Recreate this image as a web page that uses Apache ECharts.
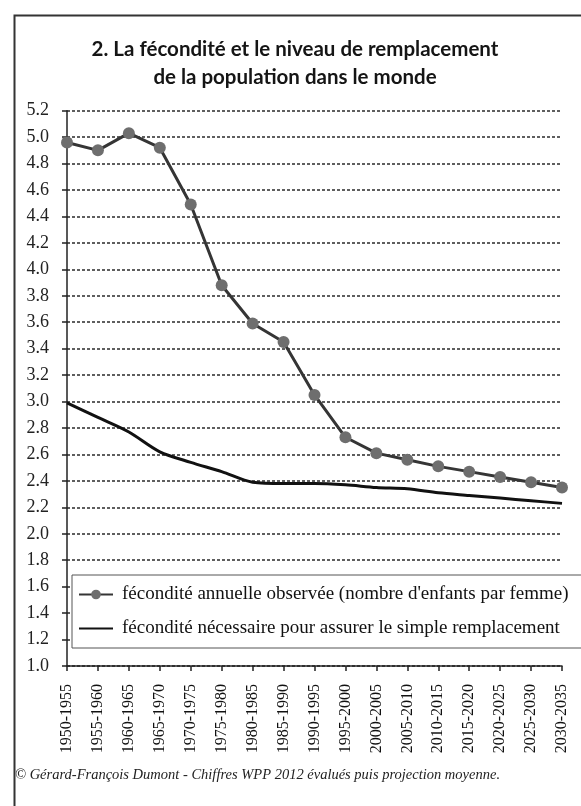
<!DOCTYPE html>
<html>
<head>
<meta charset="utf-8">
<script src="https://cdn.jsdelivr.net/npm/echarts@6/dist/echarts.min.js"></script>
<style>
  html, body { margin: 0; padding: 0; background: #fff; }
  #chart { width: 581px; height: 806px; }
</style>
</head>
<body>
<div id="chart"></div>
<script>
// périodes quinquennales
var periodes = ['1950-1955', '1955-1960', '1960-1965', '1965-1970', '1970-1975', '1975-1980',
    '1980-1985', '1985-1990', '1990-1995', '1995-2000', '2000-2005', '2005-2010',
    '2010-2015', '2015-2020', '2020-2025', '2025-2030', '2030-2035'];
// fécondité observée (enfants par femme)
var fecObservee = [4.96, 4.90, 5.03, 4.92, 4.49, 3.88, 3.59, 3.45, 3.05, 2.73, 2.61, 2.56,
    2.51, 2.47, 2.43, 2.39, 2.35];
// fécondité de remplacement
var fecRemplacement = [2.99, 2.88, 2.77, 2.62, 2.54, 2.47, 2.39, 2.38, 2.38, 2.37, 2.35, 2.34,
    2.31, 2.29, 2.27, 2.25, 2.23];
var nomObs = "fécondité annuelle observée (nombre d'enfants par femme)";
var nomRemp = 'fécondité nécessaire pour assurer le simple remplacement';

var myChart = echarts.init(document.getElementById('chart'));
var option = {
    backgroundColor: '#fff',
    animation: false,
    title: {
        text: '2. La fécondité et le niveau de remplacement\nde la population dans le monde',
        left: 290,
        textAlign: 'center',
        top: 30,
        textStyle: {
            fontFamily: 'Lato',
            fontWeight: 'bold',
            fontSize: 20.5,
            lineHeight: 28,
            color: '#151515'
        }
    },
    graphic: [
        { // cadre
            type: 'rect',
            left: 12, top: 13,
            shape: { width: 620, height: 840 },
            style: { fill: 'none', stroke: '#333', lineWidth: 2 },
            z: -1
        },
        {
            type: 'text',
            left: 15, top: 768,
            style: {
                text: '© Gérard-François Dumont - Chiffres WPP 2012 évalués puis projection moyenne.',
                font: 'italic 14.5px "Liberation Serif"',
                fill: '#222'
            }
        }
    ],
    legend: {
        orient: 'vertical',
        left: 72,
        top: 575,
        padding: [10, 40, 10, 6],
        itemGap: 15,
        itemWidth: 34,
        itemHeight: 12,
        backgroundColor: '#fff',
        borderColor: '#555',
        borderWidth: 1,
        textStyle: {
            fontFamily: 'Liberation Serif',
            fontSize: 19,
            color: '#111',
            padding: [0, 0, 0, 4]
        },
        data: [
            { name: nomObs },
            { name: nomRemp, itemStyle: { opacity: 0 } }
        ]
    },
    grid: {
        left: 67,
        right: 19,
        top: 110.7,
        bottom: 140
    },
    xAxis: {
        type: 'category',
        boundaryGap: false,
        data: periodes,
        axisLine: { lineStyle: { color: '#222', width: 1.5 } },
        axisTick: { show: true, interval: 0, length: 5, lineStyle: { color: '#222', width: 1.5 } },
        axisLabel: {
            interval: 0,
            rotate: 90,
            margin: 18,
            fontFamily: 'Liberation Serif',
            fontSize: 16,
            color: '#111'
        }
    },
    yAxis: {
        type: 'value',
        min: 1.0,
        max: 5.2,
        interval: 0.2,
        axisLine: { show: true, lineStyle: { color: '#222', width: 1.5 } },
        axisTick: { show: true, length: 5, lineStyle: { color: '#222', width: 1.5 } },
        axisLabel: {
            margin: 18,
            fontFamily: 'Liberation Serif',
            fontSize: 18,
            color: '#222',
            formatter: function (v) { return v.toFixed(1); }
        },
        splitLine: { lineStyle: { color: '#2a2a2a', width: 1.6, type: [3, 2] } }
    },
    series: [
        {
            name: nomObs,
            type: 'line',
            data: fecObservee,
            symbol: 'circle',
            symbolSize: 12,
            itemStyle: { color: '#6e6e6e' },
            lineStyle: { color: '#353535', width: 3 },
            z: 3
        },
        {
            name: nomRemp,
            type: 'line',
            data: fecRemplacement,
            smooth: 0.3,
            symbol: 'none',
            itemStyle: { color: '#111' },
            lineStyle: { color: '#111', width: 3 }
        }
    ]
};
myChart.setOption(option);
window.addEventListener('resize', myChart.resize);
</script>
</body>
</html>
